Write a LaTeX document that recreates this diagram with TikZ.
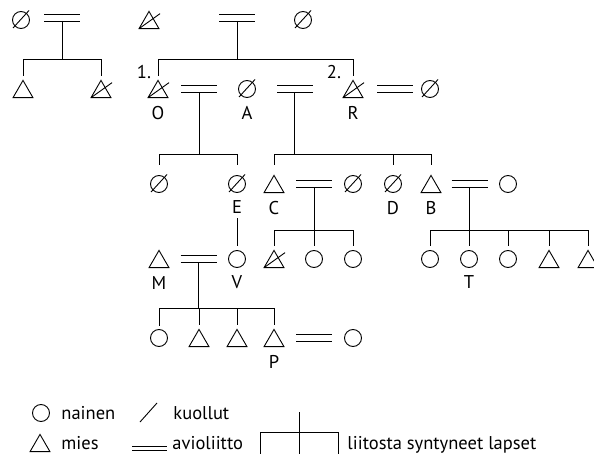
\documentclass[tikz,border=0pt]{standalone}
\usepackage{fontspec}
\setmainfont{PT Sans}
\usetikzlibrary{shapes.geometric, positioning}
\tikzset{
  person/.style = {draw, inner sep=0pt, outer sep=0pt},
  nainen/.style = {person, circle, minimum size=17pt},
  mies/.style = {person, regular polygon, regular polygon sides=3,
    minimum size=23pt, yshift=-2.9pt},
  kuollut nainen/.style = {nainen, append after command={
      ([shift={(-8pt,-8pt)}]\tikzlastnode.center)
      edge ([shift={(8pt,9.5pt)}]\tikzlastnode.center)}},
  kuollut mies/.style = {mies, append after command={
      (\tikzlastnode.corner 2) edge ++(21pt,15pt)}},
  avio/.style = {inner sep=0pt, outer sep=0pt, minimum width=36pt,
    minimum height=7pt, append after command={
      (\tikzlastnode.north west) edge (\tikzlastnode.north east)
      (\tikzlastnode.south west) edge (\tikzlastnode.south east)}},
  tag/.style = {inner sep=0pt, font=\fontsize{18.5}{22}\selectfont},
  lapsi/.style = {shorten >=4pt}
}

\begin{document}
\begin{tikzpicture}[x=1pt, y=-1pt, line width=0.9pt, node distance=8pt]
  \useasboundingbox (0,0) rectangle (594,454);

  % 1. polvi
  \node[kuollut nainen] (n1) at (21,20) {};
  \node[avio] (m1) at (62,17.5) {};
  \node[kuollut mies] (t1) at (149,20) {};
  \node[avio] (m2) at (237,17.5) {};
  \node[kuollut nainen] (n2) at (303,20) {};

  % 2. polvi
  \node[mies] (s1) at (23,89) {};
  \node[kuollut mies] (s2) at (101,89) {};
  \node[kuollut mies] (o) at (158,89) {};
  \node[avio] (m3) at (199,89) {};
  \node[kuollut nainen] (a) at (247,89) {};
  \node[avio] (m4) at (295,89) {};
  \node[kuollut mies] (r) at (353,89) {};
  \node[avio] (m5) at (395,89) {};
  \node[kuollut nainen] (rw) at (430,89) {};

  \node[tag, below=of o] (Otag) {O};
  \node[tag, below=of a] (Atag) {A};
  \node[tag, below=of r] (Rtag) {R};
  \node[tag] (nr1) at (144,72) {1.};
  \node[tag] (nr2) at (334,72) {2.};

  % 3. polvi
  \node[kuollut nainen] (k1) at (159,184) {};
  \node[kuollut nainen] (e) at (237,184) {};
  \node[mies] (c) at (274,184) {};
  \node[avio] (m6) at (314,184) {};
  \node[kuollut nainen] (cw) at (353,184) {};
  \node[kuollut nainen] (d) at (393,184) {};
  \node[mies] (b) at (431,184) {};
  \node[avio] (m7) at (469.5,184) {};
  \node[nainen] (bw) at (508,184) {};

  \node[tag, below=of e] (Etag) {E};
  \node[tag, below=of c] (Ctag) {C};
  \node[tag, below=of d] (Dtag) {D};
  \node[tag, below=of b] (Btag) {B};

  % 4. polvi
  \node[mies] (mm) at (159,259) {};
  \node[avio] (m8) at (198.5,259) {};
  \node[nainen] (v) at (237,259) {};
  \node[kuollut mies] (c1) at (274,259) {};
  \node[nainen] (c2) at (314,259) {};
  \node[nainen] (c3) at (353,259) {};
  \node[nainen] (b1) at (430,259) {};
  \node[nainen] (t) at (469,259) {};
  \node[nainen] (b3) at (508,259) {};
  \node[mies] (b4) at (549,259) {};
  \node[mies] (b5) at (588,259) {};

  \node[tag, below=of mm] (Mtag) {M};
  \node[tag, below=of v] (Vtag) {V};
  \node[tag, below=of t] (Ttag) {T};

  % 5. polvi
  \node[nainen] (v1) at (159,338) {};
  \node[mies] (v2) at (199,338) {};
  \node[mies] (v3) at (237,338) {};
  \node[mies] (p) at (274,338) {};
  \node[avio] (m9) at (314,338) {};
  \node[nainen] (pw) at (353,338) {};

  \node[tag, below=of p] (Ptag) {P};

  % liitosta syntyneet lapset
  \coordinate (f1) at (m1 |- 0,59);
  \draw (m1.south) -- (f1);
  \draw[lapsi] (f1) -| (s1);
  \draw[lapsi] (f1) -| (s2);

  \coordinate (f2) at (m2 |- 0,59);
  \draw (m2.south) -- (f2);
  \draw[lapsi] (f2) -| (o);
  \draw[lapsi] (f2) -| (r);

  \coordinate (f3) at (m3 |- 0,154);
  \draw (m3.south) -- (f3);
  \draw[lapsi, shorten >=10pt] (f3) -| (k1);
  \draw[lapsi, shorten >=10pt] (f3) -| (e);

  \coordinate (f4) at (294,154);
  \draw (m4.south -| f4) -- (f4);
  \draw[lapsi, shorten >=10pt] (f4) -| (c);
  \draw[lapsi, shorten >=10pt] (f4) -| (d);
  \draw[lapsi, shorten >=10pt] (f4) -| (b);

  \coordinate (f5) at (m6 |- 0,230);
  \draw (m6.south) -- (f5);
  \draw[lapsi] (f5) -| (c1);
  \draw[lapsi] (f5) -| (c2);
  \draw[lapsi] (f5) -| (c3);

  \coordinate (f6) at (469,230);
  \draw (m7.south -| f6) -- (f6);
  \draw[lapsi] (f6) -| (b1);
  \draw[lapsi] (f6) -| (t);
  \draw[lapsi] (f6) -| (b3);
  \draw[lapsi] (f6) -| (b4);
  \draw[lapsi] (f6) -| (b5);

  \coordinate (f7) at (198,308);
  \draw (m8.south -| f7) -- (f7);
  \draw[lapsi] (f7) -| (v1);
  \draw[lapsi] (f7) -| (v2);
  \draw[lapsi] (f7) -| (v3);
  \draw[lapsi] (f7) -| (p);

  \draw[shorten <=4pt, shorten >=4pt] (Etag) -- (v);

  % selitteet
  \node[nainen] (lnainen) at (41,413) {};
  \node[tag, anchor=base west] (tnainen) at (61,419) {nainen};
  \coordinate (lk1) at (140,422);
  \coordinate (lk2) at (157,403);
  \draw (lk1) -- (lk2);
  \node[tag, anchor=base west] (tkuollut) at (173,419) {kuollut};

  \node[mies] (lmies) at (40,443) {};
  \node[tag, anchor=base west] (tmies) at (61,449) {mies};
  \node[avio, minimum width=35pt, minimum height=4pt] (lavio) at (149.5,448.5) {};
  \node[tag, anchor=base west] (tavio) at (172,449) {avioliitto};

  \coordinate (ll) at (260,432);
  \coordinate (lr) at (338,432);
  \coordinate (lv) at (299,412);
  \draw (ll |- 0,454) -- (ll) -- (lr) -- (lr |- 0,454);
  \draw (lv) -- (lv |- 0,454);
  \node[tag, anchor=base west] (tlapset) at (347,449) {liitosta syntyneet lapset};
\end{tikzpicture}
\end{document}
